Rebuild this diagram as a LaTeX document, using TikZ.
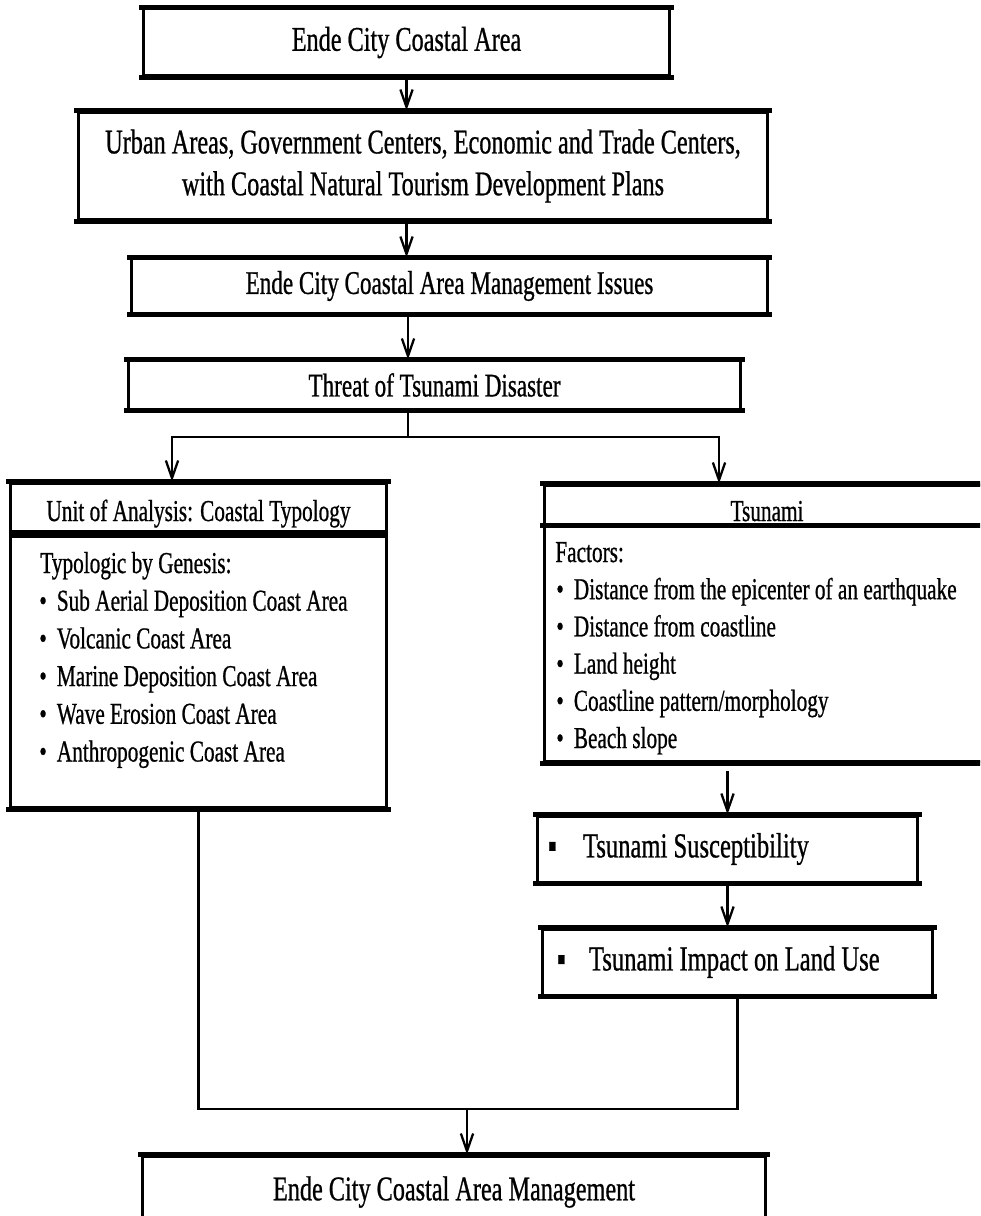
\documentclass[tikz,border=0pt]{standalone}
\usepackage{fontspec}
\setmainfont{Liberation Serif}[FakeStretch=0.7, FakeBold=0.7]
\usetikzlibrary{arrows.meta}

\newcommand{\titlefont}{\fontsize{19.7}{23.8}\selectfont}
\newcommand{\midfont}{\fontsize{18.8}{22}\selectfont}
\newcommand{\listfont}{\fontsize{17.3}{21}\selectfont}

\tikzset{
  box/.style={draw, line width=1.7pt, align=center, inner sep=0pt, font=\titlefont},
  rim/.style={line width=2.8pt, line cap=rect},
  line/.style={line width=1.3pt},
  arrow/.style={line, -{Straight Barb[length=10pt,width=7pt]}},
  listtext/.style={inner sep=0pt, anchor=base west, font=\listfont},
}

\begin{document}
\begin{tikzpicture}[x=0.02cm, y=-0.02cm]
        \useasboundingbox (0,0) rectangle (980,1216);
        \clip (0,0) rectangle (980,1216);

        % main column
        \node[box, minimum width=10.54cm, minimum height=1.34cm] (top) at (406.5,42.5) {Ende City Coastal Area};
        \node[box, minimum width=13.8cm, minimum height=2.16cm] (urban) at (423,166) {Urban Areas, Government Centers, Economic and Trade Centers,\\ with Coastal Natural Tourism Development Plans};
        \node[box, font=\midfont, minimum width=12.74cm, minimum height=1.08cm] (issues) at (449.5,286) {Ende City Coastal Area Management Issues};
        \node[box, font=\midfont, minimum width=12.26cm, minimum height=0.96cm] (threat) at (434.5,385) {Threat of Tsunami Disaster};

        % two branches
        \node[box, minimum width=7.54cm, minimum height=6.5cm] (unit) at (198.5,645.5) {};
        \node[box, minimum width=8.92cm, minimum height=5.54cm] (tsu) at (767,623.5) {};
        \coordinate (unitsep) at (0,534);
        \coordinate (tsusep) at (0,525.5);
        \draw[line width=4.5pt] (unit.west |- unitsep) -- (unit.east |- unitsep);
        \draw[rim] (tsu.west |- tsusep) -- (tsu.east |- tsusep);
        \node[listtext, anchor=base] (unithead) at (198.5,521) {Unit of Analysis: Coastal Typology};
        \node[listtext, anchor=base] (tsuhead) at (767,521) {Tsunami};

        \node[listtext] (genesis) at (40,573) {Typologic by Genesis:};
        \foreach \txt [count=\i] in {Sub Aerial Deposition Coast Area, Volcanic Coast Area, Marine Deposition Coast Area, Wave Erosion Coast Area, Anthropogenic Coast Area}
            \node[listtext] (genesis\i) at (39,{573+37.7*\i}) {\makebox[0.35cm][l]{\textbullet}\txt};

        \node[listtext] (factors) at (555,562) {Factors:};
        \foreach \txt [count=\i] in {Distance from the epicenter of an earthquake, Distance from coastline, Land height, Coastline pattern/morphology, Beach slope}
            \node[listtext] (factor\i) at (556,{562+37.2*\i}) {\makebox[0.35cm][l]{\textbullet}\txt};

        \node[box, minimum width=7.62cm, minimum height=1.32cm, font=\fontsize{20}{24}\selectfont] (susc) at (727.5,849) {\makebox[7.18cm][l]{\makebox[0.7cm][l]{▪}Tsunami Susceptibility}};
        \node[box, minimum width=7.82cm, minimum height=1.32cm, font=\fontsize{20}{24}\selectfont] (impact) at (737.5,962) {\makebox[7.22cm][l]{\makebox[0.64cm][l]{▪}Tsunami Impact on Land Use}};

        \node[box, minimum width=12.48cm, minimum height=1.44cm] (manage) at (454,1192) {Ende City Coastal Area Management};

        % thick top and bottom edges
        \foreach \b in {top,urban,issues,threat,unit,tsu,susc,impact,manage}
            \draw[rim] (\b.north west) -- (\b.north east) (\b.south west) -- (\b.south east);

        % connectors
        \coordinate (spine) at (408,437);
        \coordinate (join) at (467,1109);
        \draw[arrow] (top) -- (top |- urban.north);
        \draw[arrow] (top.south |- urban.south) -- (top.south |- issues.north);
        \draw[arrow] (spine |- issues.south) -- (spine |- threat.north);
        \draw[line] (spine |- threat.south) -- (spine);
        \draw[arrow] (spine) -| ([xshift=-0.53cm]unit.north);
        \draw[arrow] (spine) -| ([xshift=-0.96cm]tsu.north);
        \draw[arrow, shorten <=0.16cm] (tsu.south -| susc.north) -- (susc.north);
        \draw[arrow] (susc) -- (susc |- impact.north);
        \draw[line] (unit.south) |- (impact.south |- join) -- (impact.south);
        \draw[arrow] (join) -- (join |- manage.north);
    \end{tikzpicture}
\end{document}
